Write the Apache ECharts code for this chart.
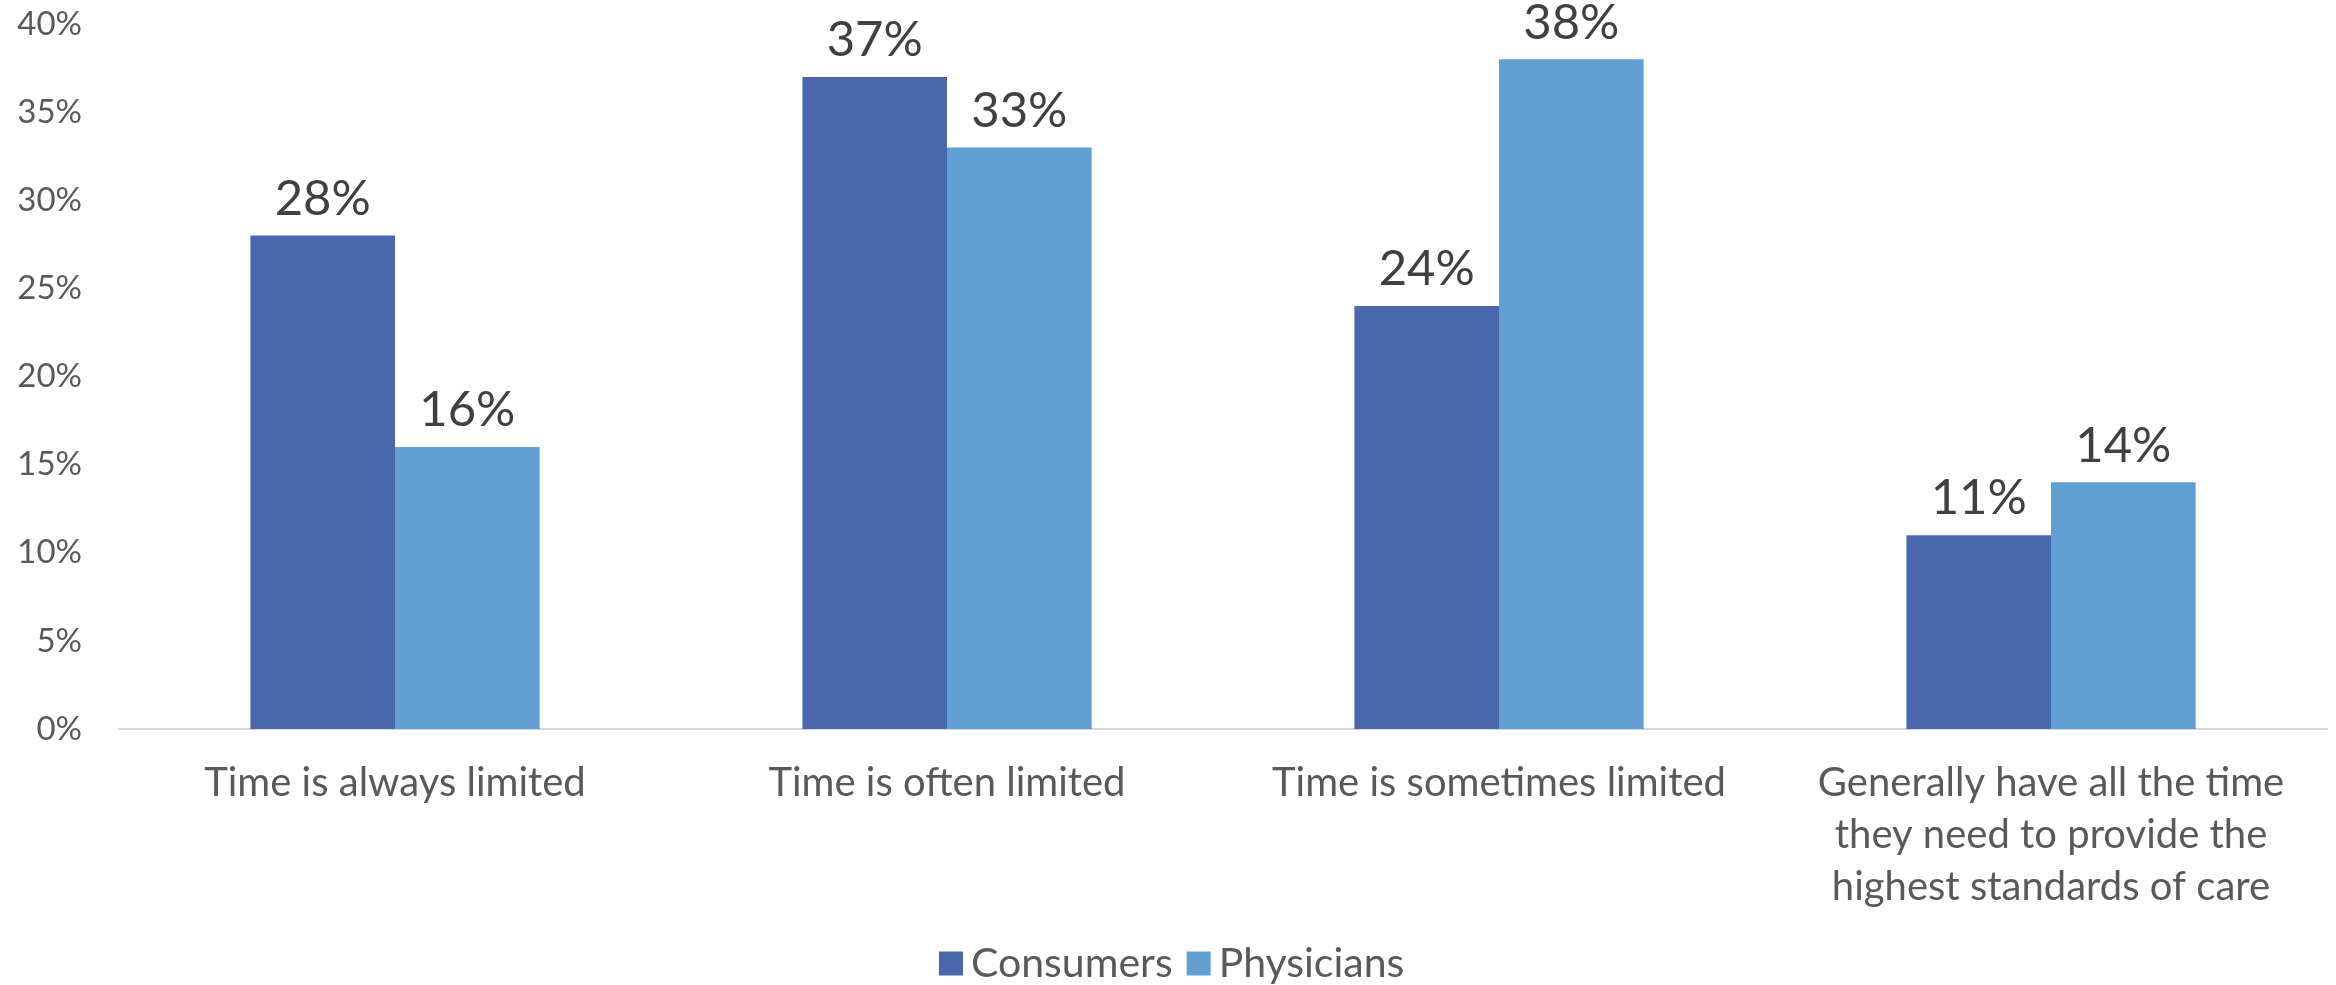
<!DOCTYPE html>
<html>
<head>
<meta charset="utf-8">
<script src="https://cdn.jsdelivr.net/npm/echarts@6/dist/echarts.min.js"></script>
<style>
html,body{margin:0;padding:0;background:#fff;}
#chart{width:2336px;height:985px;}
</style>
</head>
<body>
<div id="chart"></div>
<script>
const categories = [
  "Time is always limited",
  "Time is often limited",
  "Time is sometimes limited",
  "Generally have all the time\nthey need to provide the\nhighest standards of care"
];
const seriesNames = ["Consumers", "Physicians"];
const consumers = [28, 37, 24, 11];
const physicians = [16, 33, 38, 14];
const yTicks = { min: 0, max: 40, interval: 5 };

const FONT = "Lato";
const chart = echarts.init(document.getElementById('chart'), null, {renderer: 'canvas'});
const labelStyle = {
  show: true,
  position: 'top',
  distance: 12,
  formatter: p => p.value + '%',
  color: '#404040',
  fontSize: 49,
  fontFamily: FONT
};
chart.setOption({
  animation: false,
  backgroundColor: '#ffffff',
  textStyle: { fontFamily: FONT },
  grid: { left: 119, right: 9, top: 24, bottom: 256 },
  legend: {
    data: seriesNames,
    left: 934,
    bottom: -4,
    itemWidth: 24,
    itemHeight: 24,
    itemGap: 14,
    icon: 'rect',
    textStyle: { color: '#595959', fontSize: 41, fontFamily: FONT, padding: [0,0,0,3] }
  },
  xAxis: {
    type: 'category',
    data: categories,
    axisLine: { show: true, lineStyle: { color: '#d9d9d9', width: 2 } },
    axisTick: { show: false },
    axisLabel: {
      color: '#595959',
      fontSize: 40,
      fontFamily: FONT,
      lineHeight: 52,
      margin: 28,
      interval: 0
    }
  },
  yAxis: {
    type: 'value',
    min: yTicks.min,
    max: yTicks.max,
    interval: yTicks.interval,
    splitLine: { show: false },
    axisLine: { show: false },
    axisTick: { show: false },
    axisLabel: {
      formatter: v => v + '%',
      color: '#595959',
      fontSize: 33,
      fontFamily: FONT,
      margin: 37
    }
  },
  series: [
    {
      name: seriesNames[0],
      type: 'bar',
      data: consumers,
      barGap: '0%',
      barCategoryGap: '47.6%',
      itemStyle: { color: '#4A67AE' },
      label: labelStyle
    },
    {
      name: seriesNames[1],
      type: 'bar',
      data: physicians,
      barGap: '0%',
      barCategoryGap: '47.6%',
      itemStyle: { color: '#619ED2' },
      label: labelStyle
    }
  ]
});
</script>
</body>
</html>
